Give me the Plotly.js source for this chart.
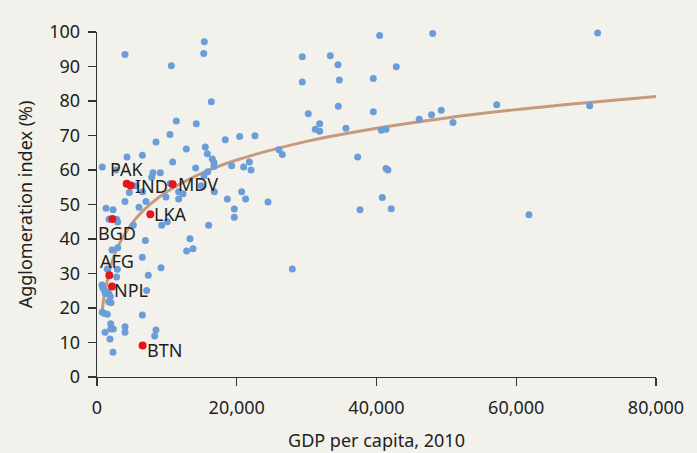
<!DOCTYPE html>
<html>
<head>
<meta charset="utf-8">
<script src="https://cdn.plot.ly/plotly-3.0.1.min.js"></script>
<style>
html,body{margin:0;padding:0;background:#f2f1ec;}
#chart{width:697px;height:453px;}
</style>
</head>
<body>
<div id="chart"></div>
<script>
// Blue points: other countries (GDP per capita 2010, agglomeration index %)
const otherGdp = [4007,15360,15270,10640,16360,11350,14210,10450,8440,18360,20420,22610,26040,26520,4290,6490,12780,15500,15790,16500,16740,16740,19270,20990,21800,22040,760,10830,14120,8010,9060,7830,15840,16790,18650,20700,21270,11690,12310,10490,9870,4630,5580,2720,6530,4010,6010,7010,1290,2290,1720,2810,2960,5200,10060,9260,15980,6920,13310,12830,13740,2150,2960,6490,1480,2910,9160,2810,7340,7110,760,1480,6490,1960,2340,1960,4010,4010,1150,8440,8250,1860,2290,24470,19650,19650,27950,15310,14930,11690,40450,48040,29380,33390,34490,42830,29380,34680,39540,34530,39540,30240,31870,31240,31870,35630,40690,41360,46120,47880,49260,50940,37300,41360,41640,40830,37640,42110,71650,57200,70510,61820,720,860,1100,1430,1190,1670,1910,1670,2000,1040];
const otherAgg = [93.5,97.2,93.8,90.2,79.8,74.2,73.4,70.3,68.1,68.8,69.7,69.9,65.9,64.5,63.8,64.3,66.1,66.7,64.7,63.2,62.2,61.0,61.2,60.9,62.3,60.0,60.9,62.3,60.6,59.2,59.2,57.9,59.5,53.7,51.6,53.7,51.6,53.7,53.1,56.1,52.2,53.5,55.4,60.0,53.7,50.9,49.2,50.9,48.9,48.5,45.7,45.7,44.9,44.0,45.0,44.0,44.0,39.6,40.1,36.5,37.2,36.8,37.5,34.7,31.3,31.2,31.7,29.0,29.5,25.1,18.8,18.2,18.0,15.4,13.9,13.9,14.6,13.0,13.0,13.6,11.9,11.0,7.2,50.7,48.7,46.3,31.3,58.3,55.4,51.6,99.0,99.6,92.8,93.1,90.5,89.9,85.5,86.1,86.5,78.5,76.9,76.3,73.4,71.8,71.2,72.1,71.5,71.8,74.7,76.0,77.3,73.8,63.8,60.4,60.0,52.0,48.5,48.8,99.7,78.9,78.6,47.0,26.7,25.7,25.0,24.7,24.2,24.2,23.3,21.8,21.5,18.5];

// Red points: South Asian countries
const saLabels = ["PAK","IND","MDV","LKA","BGD","AFG","NPL","BTN"];
const saGdp = [4250,4820,10830,7630,2190,1760,2150,6530];
const saAgg = [56.0,55.5,55.9,47.2,45.8,29.5,26.2,9.1];

// Fitted trend curve
const trendGdp = [700,1000,1430,2000,2860,4000,5500,7500,10000,15000,20000,30000,40000,50000,60000,70000,80000];
const trendAgg = [18.3,23.1,27.5,32.3,37.1,41.5,45.8,49.9,53.7,59.1,62.9,68.3,72.1,75.1,77.5,79.5,81.3];

const xTicks = [0,20000,40000,60000,80000];
const xTickText = ["0","20,000","40,000","60,000","80,000"];
const yTicks = [0,10,20,30,40,50,60,70,80,90,100];

// Label placement styles (pixel offsets from each red dot), in label order
const labelAnchor = ["center","left","left","left","center","center","left","left"];
const labelDx = [0,3,4,3,5,8,1,3];
const labelDy = [15,0,0,0,-14,14,-3,-4];

const FONT = "Noto Sans, Open Sans, sans-serif";
const TXT = "#231f20";

const traces = [
  {x: trendGdp, y: trendAgg, type: "scatter", mode: "lines",
   line: {color: "#c79a7b", width: 3, shape: "spline", smoothing: 1.0},
   hoverinfo: "skip", cliponaxis: false},
  {x: otherGdp, y: otherAgg, type: "scatter", mode: "markers",
   marker: {color: "#6b9dd9", size: 7}, cliponaxis: false},
  {x: saGdp, y: saAgg, type: "scatter", mode: "markers",
   marker: {color: "#e2161c", size: 8}, cliponaxis: false}
];

const annotations = saLabels.map((t, i) => ({
  x: saGdp[i], y: saAgg[i], xref: "x", yref: "y", text: t, showarrow: false,
  xanchor: labelAnchor[i], yanchor: "middle", xshift: labelDx[i], yshift: labelDy[i],
  borderpad: 0, font: {family: FONT, size: 18, color: TXT}
}));

const layout = {
  width: 697, height: 453,
  margin: {l: 97, r: 41, t: 32, b: 76},
  paper_bgcolor: "#f2f1ec", plot_bgcolor: "#f2f1ec",
  showlegend: false,
  font: {family: FONT, size: 18, color: TXT},
  annotations: annotations,
  xaxis: {
    range: [0, 80000], tickvals: xTicks, ticktext: xTickText,
    showgrid: false, zeroline: false, showline: true, linecolor: "#333", linewidth: 1.3,
    ticks: "outside", ticklen: 8, tickwidth: 1.3, tickcolor: "#333",
    ticklabelstandoff: 6,
    tickfont: {family: FONT, size: 18, color: TXT},
    title: {text: "GDP per capita, 2010", font: {family: FONT, size: 18, color: TXT}, standoff: 16}
  },
  yaxis: {
    range: [0, 100], tickvals: yTicks,
    showgrid: false, zeroline: false, showline: true, linecolor: "#333", linewidth: 1.3,
    ticks: "outside", ticklen: 8, tickwidth: 1.3, tickcolor: "#333",
    ticklabelstandoff: 4,
    tickfont: {family: FONT, size: 18, color: TXT},
    title: {text: "Agglomeration index (%)", font: {family: FONT, size: 18, color: TXT}, standoff: 12}
  }
};

Plotly.newPlot("chart", traces, layout, {displayModeBar: false, staticPlot: true});
</script>
</body>
</html>
